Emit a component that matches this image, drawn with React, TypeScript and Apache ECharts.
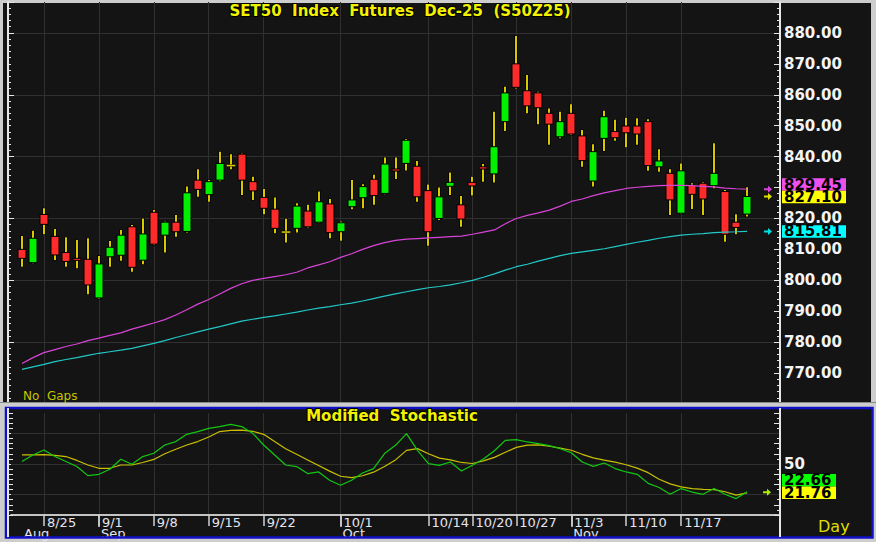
import React, { useEffect, useRef } from 'react';
import * as echarts from 'echarts';

// ---------- data ----------
const dates = [
  '8/21', '8/22', '8/25', '8/26', '8/27', '8/28', '8/29',
  '9/1', '9/2', '9/3', '9/4', '9/5', '9/8', '9/9', '9/10', '9/11', '9/12',
  '9/15', '9/16', '9/17', '9/18', '9/19', '9/22', '9/23', '9/24', '9/25', '9/26',
  '9/29', '9/30', '10/1', '10/2', '10/3', '10/6', '10/7', '10/8', '10/9', '10/10',
  '10/14', '10/15', '10/16', '10/17', '10/20', '10/21', '10/22', '10/24',
  '10/27', '10/28', '10/29', '10/30', '10/31', '11/3', '11/4', '11/5', '11/6', '11/7',
  '11/10', '11/11', '11/12', '11/13', '11/14', '11/17', '11/18', '11/19', '11/20', '11/21',
  '11/24', '11/25',
];

const openP = [
  810.0, 805.7, 821.3, 814.2, 809.0, 807.1, 806.8, 794.3, 807.6, 808.1,
  817.3, 806.5, 822.0, 814.6, 818.8, 815.8, 832.4, 827.7, 832.4, 837.0,
  840.8, 831.9, 826.8, 823.0, 815.5, 816.8, 822.4, 818.8, 824.7, 815.7,
  823.8, 826.7, 832.7, 828.1, 836.0, 837.8, 836.9, 829.0, 820.0, 830.4,
  824.4, 831.7, 836.7, 834.4, 851.3, 870.0, 861.3, 860.6, 854.0, 846.4,
  854.0, 846.7, 832.1, 845.9, 848.1, 849.9, 849.9, 851.3, 836.7, 834.6,
  821.7, 830.8, 831.4, 830.6, 828.7, 818.8, 821.4,
];
const closeP = [
  807.1, 813.6, 818.1, 808.2, 806.1, 806.5, 798.5, 805.3, 810.7, 814.6,
  804.2, 815.0, 811.7, 818.8, 815.7, 828.3, 829.4, 831.9, 837.8, 837.1,
  832.4, 828.9, 823.3, 816.8, 815.6, 824.0, 817.3, 825.4, 815.4, 818.6,
  826.0, 830.3, 827.4, 837.6, 835.5, 845.3, 827.0, 815.7, 827.0, 831.7,
  819.8, 830.5, 836.0, 843.2, 860.6, 862.4, 856.4, 855.8, 850.5, 851.3,
  847.3, 838.7, 841.6, 852.9, 846.1, 847.7, 847.3, 837.1, 838.6, 826.0,
  835.4, 827.8, 826.3, 834.6, 814.9, 817.1, 827.1,
];
const highP = [
  814.3, 816.0, 823.3, 816.6, 813.9, 813.0, 813.6, 807.9, 812.7, 816.3,
  817.9, 820.0, 822.7, 819.0, 821.1, 830.3, 835.9, 832.4, 841.6, 840.8,
  841.0, 833.5, 829.5, 826.8, 819.9, 824.9, 824.4, 828.7, 826.3, 819.0,
  832.4, 831.1, 834.1, 839.7, 839.7, 845.7, 838.6, 831.0, 830.0, 834.9,
  827.3, 833.5, 837.6, 854.5, 862.6, 879.0, 866.4, 861.0, 855.6, 854.5,
  856.9, 848.6, 844.0, 854.8, 851.9, 852.6, 852.4, 852.1, 842.4, 835.9,
  837.8, 831.4, 831.7, 844.3, 829.2, 821.4, 830.1,
];
const lowP = [
  804.4, 805.5, 814.9, 806.6, 804.4, 803.9, 795.5, 794.0, 804.4, 806.3,
  802.8, 805.2, 811.4, 809.0, 814.1, 815.5, 827.0, 825.4, 832.0, 835.9,
  827.6, 826.0, 821.4, 815.2, 812.2, 815.5, 817.1, 818.6, 813.6, 812.8,
  823.0, 823.3, 824.4, 827.8, 832.8, 835.5, 825.4, 811.2, 819.5, 827.6,
  817.3, 827.4, 831.9, 831.6, 848.3, 862.0, 854.0, 850.5, 843.8, 845.9,
  847.0, 836.7, 830.3, 841.8, 845.1, 843.0, 843.8, 835.4, 835.1, 821.1,
  821.5, 823.1, 821.1, 829.8, 812.5, 814.9, 820.6,
];

// moving averages (magenta and cyan)
const maMagenta = [
  773.1, 775.0, 776.6, 777.6, 778.6, 779.4, 780.5, 781.3, 782.2, 783.0,
  784.2, 785.2, 786.2, 787.3, 788.8, 790.5, 792.3, 793.8, 795.6, 797.4,
  798.9, 800.0, 800.6, 801.2, 801.8, 802.6, 804.0, 805.0, 806.0, 807.4,
  808.6, 810.0, 811.2, 812.2, 812.9, 813.3, 813.5, 813.7, 813.9, 814.1,
  814.3, 814.9, 815.6, 816.3, 818.3, 820.0, 821.0, 821.8, 822.7, 824.0,
  825.5, 826.3, 827.4, 828.3, 829.0, 829.7, 830.1, 830.4, 830.6, 830.7,
  830.7, 830.6, 830.4, 830.2, 829.8, 829.6, 829.45,
];
const maCyan = [
  771.2, 772.0, 772.8, 773.7, 774.4, 775.0, 775.7, 776.4, 776.9, 777.4,
  778.0, 778.8, 779.6, 780.5, 781.5, 782.4, 783.3, 784.2, 785.0, 785.9,
  786.8, 787.4, 788.0, 788.5, 789.1, 789.7, 790.4, 791.0, 791.5, 792.1,
  792.6, 793.3, 794.1, 794.9, 795.6, 796.3, 797.0, 797.6, 798.0, 798.5,
  799.2, 800.0, 801.0, 802.1, 803.3, 804.4, 805.2, 806.2, 807.1, 808.0,
  808.7, 809.2, 809.7, 810.2, 810.9, 811.6, 812.3, 812.9, 813.6, 814.1,
  814.6, 814.9, 815.1, 815.4, 815.6, 815.7, 815.81,
];

// modified stochastic
const stochK = [
  52.4, 58.8, 63.7, 57.3, 52.4, 47.5, 38.6, 39.9, 44.8, 54.6,
  49.7, 57.3, 60.5, 68.6, 72.0, 79.1, 81.8, 85.0, 86.7, 88.9,
  86.7, 80.1, 68.6, 58.8, 49.0, 47.5, 40.6, 42.2, 34.0, 29.1,
  34.0, 41.2, 45.5, 60.2, 68.3, 79.8, 63.4, 50.4, 48.7, 52.0,
  43.1, 48.7, 55.0, 63.0, 73.2, 73.9, 71.6, 70.0, 68.0, 65.0,
  61.0, 52.0, 47.7, 51.0, 45.5, 42.2, 39.9, 31.0, 26.9, 20.3,
  25.9, 22.5, 20.3, 25.9, 20.3, 16.1, 22.66,
];
const stochD = [
  59.0, 59.0, 59.2, 58.5, 57.3, 53.5, 49.0, 45.8, 45.8, 49.0,
  49.0, 51.5, 54.5, 60.0, 64.5, 68.6, 72.0, 76.5, 81.8, 83.0,
  83.3, 82.0, 79.1, 72.0, 65.0, 59.5, 54.0, 48.5, 43.0, 38.0,
  36.7, 38.5, 42.0, 47.5, 54.0, 63.4, 65.1, 60.0, 55.8, 54.0,
  51.5, 50.5, 53.0, 56.5, 61.5, 66.3, 68.5, 68.8, 67.4, 65.5,
  63.5, 59.5, 56.0, 53.8, 51.8, 49.3, 46.0, 41.5, 35.0, 30.5,
  27.5, 25.8, 25.1, 24.9, 22.8, 19.5, 21.76,
];

const weekLabels = ['8/25', '9/1', '9/8', '9/15', '9/22', '10/1', '10/14', '10/20', '10/27', '11/3', '11/10', '11/17'];
const monthLabels: Record<string, string> = { '8/21': 'Aug', '9/1': 'Sep', '10/1': 'Oct', '11/3': 'Nov' };
const monthTicks = ['9/1', '10/1', '11/3'];
// price labels drawn 770..880; 830 sits under the last-value boxes in the reference
const hiddenPriceLabels = [830];

const lastValues = { magenta: 829.45, close: 827.1, cyan: 815.81, k: 22.66, d: 21.76 };

const TITLE = 'SET50  Index  Futures  Dec-25  (S50Z25)';
const SUBTITLE = 'Modified  Stochastic';

// ---------- styles ----------
const FONT = '"DejaVu Sans", Verdana, sans-serif';
const DARK = '#141414';
const GRID = '#303030';
const UP = '#00f000';
const DOWN = '#ff2b2b';
const WICK = '#d8c800';
const DOJI = '#e8d800';
const MAG = '#d844d8';
const CYAN = '#22c8c8';
const KCOL = '#12c812';
const DCOL = '#c8c000';
const AXIS = '#e6e6e6';

const categories = ['pad0', ...dates, 'pad1', 'pad2', 'pad3'];
const pad = (arr: number[]) => ['-', ...arr];

const candleData = dates.map((_, i) => [i + 1, openP[i], closeP[i], lowP[i], highP[i]]);

function buildOption(): any {
  const isWeek = (_i: number, v: string) => weekLabels.includes(v);
  return {
    animation: false,
    backgroundColor: 'transparent',
    grid: [
      { left: 11, right: 96, top: 2, height: 402 },
      { left: 11, right: 96, top: 413, height: 102 },
    ],
    xAxis: [
      {
        type: 'category', gridIndex: 0, data: categories, boundaryGap: false,
        axisLine: { show: false }, axisTick: { show: false }, axisLabel: { show: false },
        splitLine: { show: true, interval: isWeek, lineStyle: { color: GRID, width: 1 } },
      },
      {
        type: 'category', gridIndex: 1, data: categories, boundaryGap: false, position: 'bottom',
        axisLine: { show: true, lineStyle: { color: '#d0d0d0', width: 1.5 } },
        axisTick: { show: true, interval: isWeek, length: 11, lineStyle: { color: '#d0d0d0', width: 1.5 } },
        axisLabel: {
          show: true, interval: isWeek, formatter: (v: string) => (weekLabels.includes(v) ? v : ''),
          align: 'left', padding: [0, 0, 0, 3], margin: 2, color: '#e4e4ee', fontSize: 13, lineHeight: 11, fontFamily: FONT,
        },
        splitLine: { show: true, interval: isWeek, lineStyle: { color: GRID, width: 1 } },
      },
      {
        type: 'category', gridIndex: 1, data: categories, boundaryGap: false, position: 'bottom', offset: 11,
        axisLine: { show: true, lineStyle: { color: '#d0d0d0', width: 1.5 } },
        axisTick: { show: true, interval: (_i: number, v: string) => monthTicks.includes(v), length: 12, lineStyle: { color: '#d0d0d0', width: 1.5 } },
        axisLabel: {
          show: true, interval: (_i: number, v: string) => v in monthLabels, formatter: (v: string) => monthLabels[v] || '',
          align: 'left', padding: [0, 0, 0, 2], margin: 2, color: '#e4e4ee', fontSize: 13, lineHeight: 11, fontFamily: FONT,
        },
        splitLine: { show: false },
      },
    ],
    yAxis: [
      {
        type: 'value', gridIndex: 0, position: 'right', min: 760, max: 890, interval: 10,
        axisLine: { show: true, lineStyle: { color: AXIS, width: 2 } },
        axisTick: { show: true, inside: true, length: 6, lineStyle: { color: AXIS } },
        minorTick: { show: true, splitNumber: 5, length: 3, lineStyle: { color: AXIS } },
        axisLabel: {
          show: true, margin: 4, color: '#f4f4f4', fontSize: 15, lineHeight: 12, fontWeight: 'bold', fontFamily: FONT,
          formatter: (v: number) => (v >= 770 && v <= 880 && !hiddenPriceLabels.includes(v) ? v.toFixed(2) : ''),
        },
        splitLine: { show: false },
      },
      {
        type: 'value', gridIndex: 0, position: 'left', offset: 3, min: 760, max: 890, interval: 20,
        axisLine: { show: true, lineStyle: { color: AXIS, width: 2 } },
        axisTick: { show: true, inside: true, length: 6, lineStyle: { color: AXIS } },
        minorTick: { show: true, splitNumber: 10, length: 3, lineStyle: { color: AXIS } },
        axisLabel: { show: false },
        splitLine: { show: true, showMinLine: false, showMaxLine: false, lineStyle: { color: GRID, width: 1 } },
      },
      {
        type: 'value', gridIndex: 1, position: 'right', min: 0, max: 100, interval: 10,
        axisLine: { show: true, lineStyle: { color: AXIS, width: 2 } },
        axisTick: { show: true, inside: true, length: 6, lineStyle: { color: AXIS } },
        minorTick: { show: true, splitNumber: 2, length: 3, lineStyle: { color: AXIS } },
        axisLabel: {
          show: true, margin: 4, color: '#f4f4f4', fontSize: 15, lineHeight: 12, fontWeight: 'bold', fontFamily: FONT,
          formatter: (v: number) => (v === 50 ? '50' : ''),
        },
        splitLine: { show: false },
      },
      {
        type: 'value', gridIndex: 1, position: 'left', offset: 3, min: 0, max: 100, interval: 5,
        axisLine: { show: true, lineStyle: { color: AXIS, width: 2 } },
        axisTick: { show: true, inside: true, length: 5, lineStyle: { color: AXIS } },
        axisLabel: { show: false },
        splitLine: { show: false },
      },
    ],
    series: [
      {
        type: 'custom', name: 'price', xAxisIndex: 0, yAxisIndex: 0,
        data: candleData,
        encode: { x: 0, y: [1, 2, 3, 4] },
        renderItem: (_params: any, api: any) => {
          const i = api.value(0);
          const o = api.value(1), c = api.value(2), l = api.value(3), h = api.value(4);
          const top = api.coord([i, Math.max(o, c)]);
          const bot = api.coord([i, Math.min(o, c)]);
          const hi = api.coord([i, h]);
          const lo = api.coord([i, l]);
          const x = Math.round(top[0]);
          const doji = Math.abs(o - c) < 0.3;
          const children: any[] = [
            { type: 'rect', shape: { x: x - 1.75, y: hi[1] - 0.5, width: 3.5, height: lo[1] - hi[1] + 1 }, style: { fill: '#000' } },
            { type: 'rect', shape: { x: x - 1, y: hi[1], width: 2, height: lo[1] - hi[1] }, style: { fill: WICK } },
          ];
          if (doji) {
            children.push({ type: 'rect', shape: { x: x - 4.5, y: top[1] - 1, width: 9, height: 2 }, style: { fill: DOJI, stroke: '#000', lineWidth: 0.5 } });
          } else {
            children.push({
              type: 'rect',
              shape: { x: x - 4, y: top[1], width: 8, height: Math.max(bot[1] - top[1], 2) },
              style: { fill: c > o ? UP : DOWN, stroke: '#000', lineWidth: 1 },
            });
          }
          return { type: 'group', children };
        },
        z: 2,
      },
      {
        type: 'line', name: 'MA magenta', xAxisIndex: 0, yAxisIndex: 0, data: pad(maMagenta),
        symbol: 'none', lineStyle: { color: MAG, width: 1.2 }, z: 3,
      },
      {
        type: 'line', name: 'MA cyan', xAxisIndex: 0, yAxisIndex: 0, data: pad(maCyan),
        symbol: 'none', lineStyle: { color: CYAN, width: 1.2 }, z: 3,
      },
      {
        type: 'line', name: '%D', xAxisIndex: 1, yAxisIndex: 2, data: pad(stochD),
        symbol: 'none', lineStyle: { color: DCOL, width: 1.2 }, z: 3,
        markLine: {
          silent: true, symbol: 'none', label: { show: false }, z: 1,
          lineStyle: { color: GRID, type: 'solid', width: 1 },
          data: [{ yAxis: 20 }, { yAxis: 50 }, { yAxis: 80 }],
        },
      },
      {
        type: 'line', name: '%K', xAxisIndex: 1, yAxisIndex: 2, data: pad(stochK),
        symbol: 'none', lineStyle: { color: KCOL, width: 1.2 }, z: 4,
      },
    ],
  };
}

function arrow(cx: number, cy: number, color: string): any {
  return {
    type: 'polygon', z: 100,
    shape: { points: [[cx - 4, cy - 1], [cx, cy - 1], [cx, cy - 3.5], [cx + 4, cy], [cx, cy + 3.5], [cx, cy + 1], [cx - 4, cy + 1]] },
    style: { fill: color },
  };
}

function valueBox(x: number, cy: number, w: number, text: string, bg: string): any[] {
  return [
    { type: 'rect', z: 100, shape: { x, y: cy - 6.25, width: w, height: 12.5 }, style: { fill: bg } },
    {
      type: 'text', z: 101, x: x + 2, y: cy,
      style: { text, fill: '#000', font: `bold 15px ${FONT}`, lineHeight: 11, textVerticalAlign: 'middle', verticalAlign: 'middle' },
    },
  ];
}

function buildGraphics(chart: any): any[] {
  const py = (v: number) => chart.convertToPixel({ yAxisIndex: 0 }, v);
  const sy = (v: number) => chart.convertToPixel({ yAxisIndex: 2 }, v);

  const yClose = py(lastValues.close);
  const yMag = py(lastValues.magenta);
  const yCyan = py(lastValues.cyan);
  const closeBox = yClose + 0.5;
  const magBox = Math.min(yMag, closeBox - 12.5);

  const yD = sy(lastValues.d);
  const yK = sy(lastValues.k);
  const dBox = yD;
  const kBox = Math.min(yK, dBox - 12.5);

  return [
    // panel backgrounds
    { type: 'rect', z: -10, silent: true, shape: { x: 3, y: 3, width: 868, height: 399.5 }, style: { fill: DARK } },
    { type: 'rect', z: -10, silent: true, shape: { x: 6, y: 408, width: 866.5, height: 129.5 }, style: { fill: DARK } },
    // separator strip between the panels and the lower frame
    { type: 'rect', z: 90, silent: true, shape: { x: 0, y: 402.5, width: 876, height: 4.5 }, style: { fill: '#cdcdcd' } },
    { type: 'line', z: 90, silent: true, shape: { x1: 0, y1: 402.5, x2: 876, y2: 402.5 }, style: { stroke: '#8a8a8a', lineWidth: 1 } },
    { type: 'rect', z: 91, silent: true, shape: { x: 6, y: 408, width: 866.5, height: 129.5 }, style: { fill: 'none', stroke: '#1010c8', lineWidth: 2.5 } },
    // continuation of axis lines through the date rows
    { type: 'line', z: 92, silent: true, shape: { x1: 780, y1: 408, x2: 780, y2: 537 }, style: { stroke: AXIS, lineWidth: 2 } },
    { type: 'line', z: 92, silent: true, shape: { x1: 8, y1: 408, x2: 8, y2: 537 }, style: { stroke: AXIS, lineWidth: 2 } },
    // titles
    {
      type: 'text', z: 100, x: 400, y: 11,
      style: { text: TITLE, fill: '#f2f200', font: `bold 15px ${FONT}`, textAlign: 'center', textVerticalAlign: 'middle', verticalAlign: 'middle', align: 'center', stroke: '#000', lineWidth: 2 },
    },
    {
      type: 'text', z: 100, x: 392, y: 416,
      style: { text: SUBTITLE, fill: '#f2f200', font: `bold 15px ${FONT}`, textAlign: 'center', textVerticalAlign: 'middle', verticalAlign: 'middle', align: 'center', stroke: '#000', lineWidth: 2 },
    },
    {
      type: 'text', z: 100, x: 23, y: 396,
      style: { text: 'No  Gaps', fill: '#c4c400', font: `12px ${FONT}`, textVerticalAlign: 'middle', verticalAlign: 'middle' },
    },
    {
      type: 'text', z: 100, x: 818, y: 526,
      style: { text: 'Day', fill: '#dede00', font: `16px ${FONT}`, textVerticalAlign: 'middle', verticalAlign: 'middle' },
    },
    // last-value markers, upper panel
    arrow(768, yMag, MAG),
    arrow(768, yClose, '#e0e000'),
    arrow(768, yCyan, '#00e0e0'),
    ...valueBox(782, magBox, 64, lastValues.magenta.toFixed(2), '#ee50ee'),
    ...valueBox(782, closeBox, 64, lastValues.close.toFixed(2), '#ffff00'),
    ...valueBox(782, yCyan, 64, lastValues.cyan.toFixed(2), '#00ffff'),
    // last-value markers, lower panel
    arrow(767, (yK + yD) / 2, '#a8f000'),
    ...valueBox(782, kBox, 54, lastValues.k.toFixed(2), '#00ff00'),
    ...valueBox(782, dBox, 54, lastValues.d.toFixed(2), '#ffff00'),
  ];
}

export default function App() {
  const ref = useRef<HTMLDivElement>(null);
  useEffect(() => {
    const el = ref.current;
    if (!el) return;
    const chart = echarts.init(el, null, { renderer: 'svg', width: 876, height: 542 });
    chart.setOption(buildOption());
    chart.setOption({ graphic: buildGraphics(chart) });
    return () => chart.dispose();
  }, []);
  return (
    <div
      ref={ref}
      style={{ position: 'fixed', left: 0, top: 0, width: 876, height: 542, background: '#cdcdcd' }}
    />
  );
}
